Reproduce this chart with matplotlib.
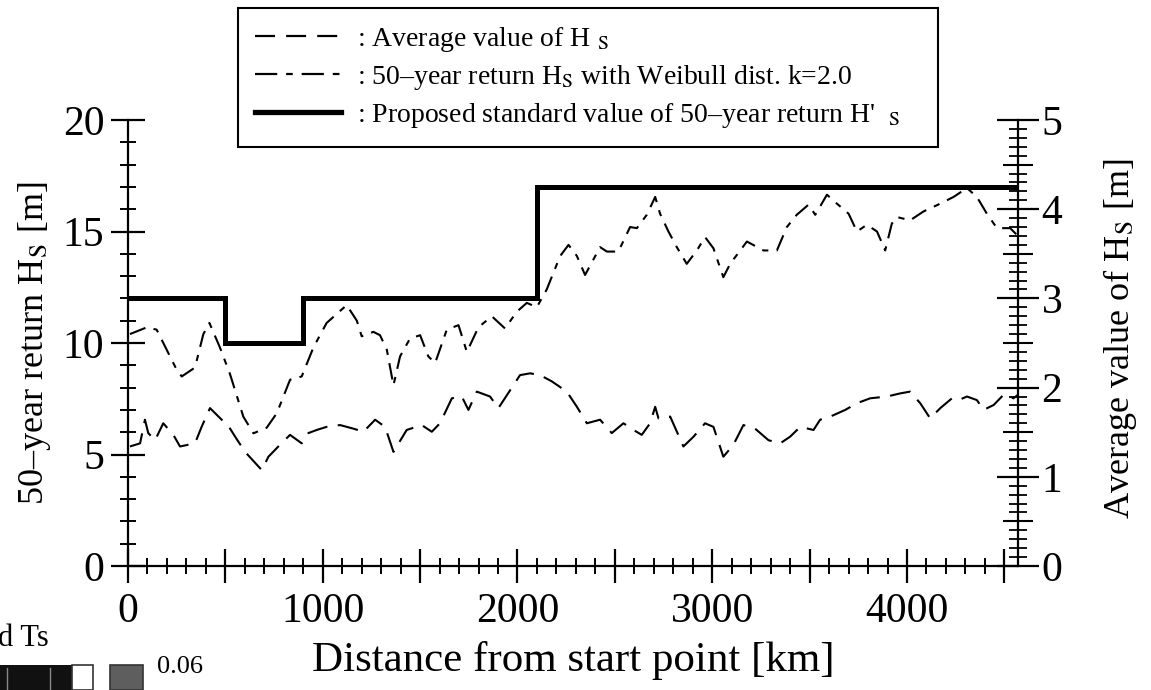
import matplotlib
matplotlib.use("Agg")
import matplotlib.pyplot as plt
from matplotlib.ticker import MultipleLocator, FuncFormatter
from matplotlib.lines import Line2D
from matplotlib.patches import Rectangle

plt.rcParams['font.family'] = ['Liberation Serif', 'DejaVu Serif']
plt.rcParams['mathtext.fontset'] = 'stix'

# ---------------- data ----------------
# distance along route [km]
ret_x = [10, 96, 147, 250, 276, 344, 387, 418, 472, 524, 592, 644, 712, 764, 832, 892, 952, 1020, 1123, 1175,
         1200, 1260, 1294, 1329, 1363, 1397, 1448, 1500, 1542, 1577, 1637, 1697, 1740, 1799, 1868, 1936, 1996, 2048, 2099, 2150,
         2219, 2262, 2305, 2347, 2424, 2459, 2518, 2578, 2613, 2664, 2707, 2732, 2775, 2818, 2869, 2921, 2963, 3006, 3057, 3092,
         3178, 3263, 3332, 3383, 3434, 3494, 3529, 3589, 3640, 3700, 3743, 3794, 3846, 3888, 3922, 3948, 4016, 4085, 4171, 4239,
         4308, 4359, 4410, 4462, 4530, 4564]
# 50-year return Hs (Weibull k=2.0) [m]
ret_hs = [10.4, 10.7, 10.6, 8.8, 8.5, 8.9, 10.4, 10.9, 9.8, 8.6, 6.7, 5.95, 6.2, 6.85, 8.35, 8.5, 9.8, 10.9, 11.7, 11.0,
          10.3, 10.5, 10.35, 9.7, 8.1, 9.4, 10.2, 10.35, 9.4, 9.1, 10.6, 10.8, 9.6, 10.7, 11.2, 10.65, 11.4, 11.8, 11.6, 12.4,
          13.9, 14.4, 13.9, 13.05, 14.3, 14.1, 14.1, 15.2, 15.15, 15.75, 16.55, 15.8, 15.0, 14.3, 13.55, 14.15, 14.75, 14.25, 12.95, 13.55,
          14.55, 14.15, 14.15, 15.2, 15.75, 16.2, 15.75, 16.65, 16.25, 15.8, 15.0, 15.3, 15.0, 14.15, 15.35, 15.65, 15.5, 15.9, 16.25, 16.55,
          16.95, 16.55, 15.8, 15.15, 15.15, 14.85]

avg_x = [10, 62, 87, 104, 139, 181, 233, 267, 344, 378, 421, 481, 507, 550, 601, 687, 721, 781, 832, 892,
         926, 969, 1020, 1089, 1157, 1209, 1269, 1320, 1363, 1431, 1508, 1560, 1602, 1663, 1714, 1748, 1791, 1859, 1902, 1962,
         2013, 2065, 2116, 2176, 2253, 2305, 2356, 2424, 2484, 2544, 2596, 2638, 2681, 2707, 2724, 2784, 2852, 2904, 2963, 3006,
         3057, 3109, 3160, 3220, 3289, 3349, 3400, 3452, 3520, 3554, 3606, 3683, 3743, 3811, 3897, 3965, 4016, 4068, 4119, 4171,
         4231, 4265, 4308, 4359, 4393, 4445, 4496, 4547, 4570]
# average Hs [m] (right axis)
avg_hs = [1.34, 1.375, 1.64, 1.49, 1.41, 1.60, 1.47, 1.34, 1.375, 1.56, 1.77, 1.64, 1.60, 1.45, 1.28, 1.075, 1.225, 1.36, 1.47, 1.375,
          1.49, 1.525, 1.56, 1.58, 1.54, 1.505, 1.64, 1.56, 1.28, 1.525, 1.58, 1.505, 1.60, 1.88, 1.90, 1.75, 1.955, 1.90, 1.77, 1.97,
          2.14, 2.16, 2.14, 2.07, 1.955, 1.785, 1.60, 1.64, 1.49, 1.60, 1.525, 1.47, 1.60, 1.785, 1.655, 1.675, 1.34, 1.45, 1.60, 1.56,
          1.225, 1.36, 1.58, 1.54, 1.41, 1.375, 1.45, 1.56, 1.525, 1.64, 1.675, 1.75, 1.825, 1.88, 1.90, 1.935, 1.955, 1.825, 1.655, 1.77,
          1.88, 1.86, 1.90, 1.86, 1.75, 1.805, 1.92, 1.88, 1.92]

# proposed standard value (step)
std_edges = [0, 500, 900, 2100, 4570]
std_values = [12, 10, 12, 17]

x_ticklabels = ['0', '1000', '2000', '3000', '4000']
labels = [r': Average value of H $_{\mathrm{S}}$',
          r': 50–year return H$_{\mathrm{S}}$ with Weibull dist. k=2.0',
          r": Proposed standard value of 50–year return H'  $_{\mathrm{S}}$"]

# ---------------- figure ----------------
W, H = 1151, 690
fig = plt.figure(figsize=(W / 100, H / 100), dpi=100)
ax = fig.add_axes([128 / W, 1 - 566 / H, 890 / W, 446 / H])
ax.set_xlim(0, 4570)
ax.set_ylim(0, 20)
ax.patch.set_visible(False)

lw_axis = 1.6
for s in ['left', 'bottom']:
    ax.spines[s].set_linewidth(lw_axis)
ax.spines['top'].set_visible(False)
ax.spines['right'].set_visible(False)

ax.stairs(std_values, std_edges, color='black', linewidth=3.6, baseline=None, zorder=3)
l_ret, = ax.plot(ret_x, ret_hs, color='black', linewidth=1.5, dashes=(8, 4, 3, 4), zorder=2)

ax.xaxis.set_major_locator(MultipleLocator(500))
ax.xaxis.set_minor_locator(MultipleLocator(100))
ax.xaxis.set_major_formatter(FuncFormatter(
    lambda v, p: x_ticklabels[int(round(v / 1000))] if abs(v % 1000) < 1e-6 and int(round(v / 1000)) < len(x_ticklabels) else ''))
ax.yaxis.set_major_locator(MultipleLocator(5))
ax.yaxis.set_minor_locator(MultipleLocator(1))
ax.tick_params(which='major', direction='inout', length=24, width=1.6, labelsize=30, pad=5)
ax.tick_params(axis='x', which='major', pad=7)
ax.tick_params(which='minor', direction='inout', length=12, width=1.4)
ax.tick_params(axis='y', which='both', right=False)
ax.tick_params(axis='x', which='both', top=False)

ax2 = ax.twinx()
ax2.set_ylim(0, 5)
ax2.patch.set_visible(False)
for s in ['left', 'bottom', 'top']:
    ax2.spines[s].set_visible(False)
ax2.spines['right'].set_linewidth(lw_axis)
l_avg, = ax2.plot(avg_x, avg_hs, color='black', linewidth=1.5, dashes=(10, 5), zorder=2)
ax2.yaxis.set_major_locator(MultipleLocator(1))
ax2.yaxis.set_minor_locator(MultipleLocator(0.1))
ax2.tick_params(which='major', direction='inout', length=30, width=1.6, labelsize=30, pad=2)
ax2.tick_params(which='minor', direction='inout', length=13, width=1.3)

ax3 = ax.twinx()
ax3.set_ylim(0, 5)
ax3.patch.set_visible(False)
for s in ax3.spines.values():
    s.set_visible(False)
ax3.set_yticks([0.5, 1.5, 2.5, 3.5, 4.5])
ax3.tick_params(direction='inout', length=22, width=1.5, labelright=False)

ax.set_xlabel('Distance from start point [km]', fontsize=31)
ax.xaxis.set_label_coords(0.5, -0.211)
ax.xaxis.label.set_va('center')
ax.set_ylabel(r'50–year return H$_{\mathrm{S}}$ [m]', fontsize=26)
ax.yaxis.set_label_coords(-0.1045, 0.5)
ax.yaxis.label.set_va('center')
ax2.set_ylabel(r'Average value of H$_{\mathrm{S}}$ [m]', fontsize=26, rotation=90)
ax2.yaxis.set_label_coords(1.1146, 0.51)
ax2.yaxis.label.set_va('center')

# legend
h_avg = Line2D([], [], color='black', linewidth=1.6, dashes=(9, 5))
h_ret = Line2D([], [], color='black', linewidth=1.6, dashes=(10, 4, 3, 4))
h_std = Line2D([], [], color='black', linewidth=3.8)
leg = fig.legend([h_avg, h_ret, h_std], labels, loc='upper left',
                 bbox_to_anchor=(238 / W, 1 - 142 / H, 700 / W, 134 / H), mode='expand',
                 fontsize=20, handlelength=3.1, handletextpad=0.6, labelspacing=0.33, borderpad=0.6,
                 fancybox=False, framealpha=1, edgecolor='black', borderaxespad=0)
leg.get_frame().set_linewidth(1.5)
leg.set_zorder(10)

# fragment of neighbouring figure (bottom-left)
fig.text(-2 / W, 1 - 638 / H, 'd Ts', fontsize=22, ha='left', va='center')
fig.add_artist(Rectangle((0, 0), 72 / W, 25 / H, transform=fig.transFigure, facecolor='#111111', edgecolor='none'))
for xv in [7, 50]:
    fig.add_artist(Line2D([xv / W, xv / W], [0, 22 / H], transform=fig.transFigure, color='#888888', linewidth=1))
fig.add_artist(Rectangle((72 / W, 0), 21 / W, 25 / H, transform=fig.transFigure, facecolor='white', edgecolor='#333333', linewidth=1.2))
fig.add_artist(Rectangle((110 / W, 0), 33 / W, 25 / H, transform=fig.transFigure, facecolor='#5e5e5e', edgecolor='#333333', linewidth=1.2))
fig.text(157 / W, 1 - 667 / H, '0.06', fontsize=19, ha='left', va='center')

fig.savefig('out.png', dpi=100)
